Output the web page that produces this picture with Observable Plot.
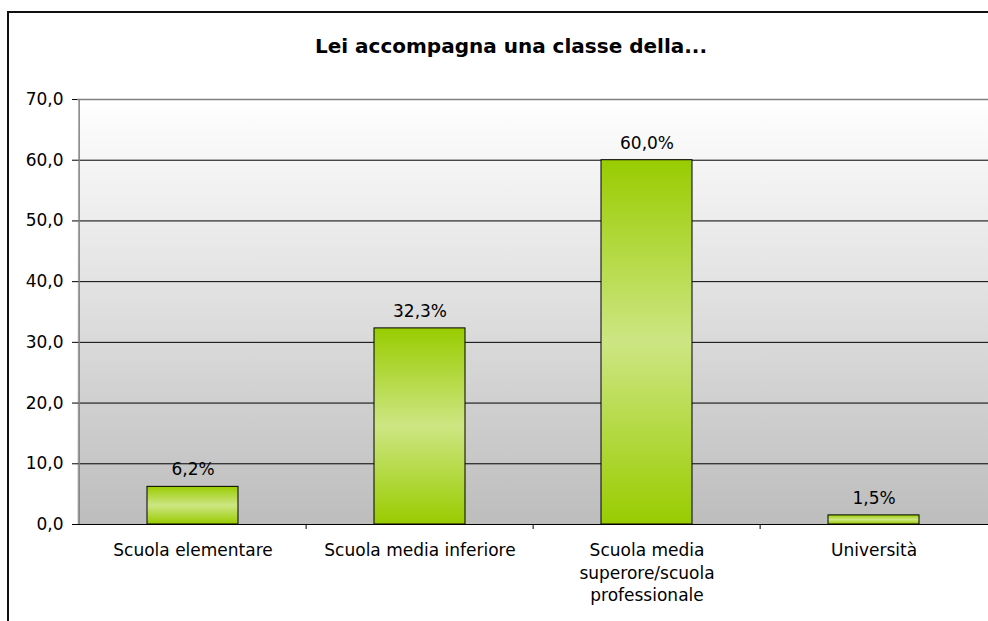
<!DOCTYPE html>
<html>
<head>
<meta charset="utf-8">
<script src="https://cdn.jsdelivr.net/npm/d3@7"></script>
<script src="https://cdn.jsdelivr.net/npm/@observablehq/plot@0.6"></script>
<style>
  html, body { margin: 0; padding: 0; background: #fff; }
  #wrap { position: relative; width: 988px; height: 621px; overflow: hidden; background: #fff; }
  #wrap svg { position: absolute; left: 0; top: 0; }
  #border { position: absolute; left: 7px; top: 11px; width: 1200px; height: 900px;
            border-left: 2px solid #111; border-top: 2px solid #111; pointer-events: none; }
  #title { position: absolute; left: 0; top: 34px; width: 1022px; text-align: center;
           font-family: "DejaVu Sans", Verdana, sans-serif; font-weight: bold; font-size: 20px;
           line-height: 24px; color: #000; }
</style>
</head>
<body>
<div id="wrap">
  <div id="title">Lei accompagna una classe della...</div>
</div>
<script>
const categories = [
  "Scuola elementare",
  "Scuola media inferiore",
  "Scuola media\nsuperore/scuola\nprofessionale",
  "Università"
];
const values = [6.2, 32.3, 60.0, 1.5];
const valueLabels = ["6,2%", "32,3%", "60,0%", "1,5%"];
const yTicks = [0, 10, 20, 30, 40, 50, 60, 70];
const gridTicks = [10, 20, 30, 40, 50, 60];

const data = categories.map((c, i) => ({cat: c, value: values[i], label: valueLabels[i]}));

const W = 988, H = 621, mL = 77, mR = 0, mT = 99, mB = 97;
const step = (W - mL - mR) / categories.length;

const defs = () => {
  const d = d3.create("svg:defs");
  const bg = d.append("linearGradient").attr("id", "bgGrad")
    .attr("x1", 0).attr("y1", 0).attr("x2", 0).attr("y2", 1);
  bg.append("stop").attr("offset", "0%").attr("stop-color", "#ffffff");
  bg.append("stop").attr("offset", "100%").attr("stop-color", "#bdbdbd");
  const bar = d.append("linearGradient").attr("id", "barGrad")
    .attr("x1", 0).attr("y1", 0).attr("x2", 0).attr("y2", 1);
  bar.append("stop").attr("offset", "0%").attr("stop-color", "#99cc00");
  bar.append("stop").attr("offset", "50%").attr("stop-color", "#cde683");
  bar.append("stop").attr("offset", "100%").attr("stop-color", "#99cc00");
  return d.node();
};

const chart = Plot.plot({
  width: W,
  height: H,
  marginLeft: mL,
  marginRight: mR,
  marginTop: mT,
  marginBottom: mB,
  style: {fontFamily: "DejaVu Sans, Verdana, sans-serif", fontSize: "17px", background: "transparent", color: "#000"},
  x: {domain: categories, paddingInner: 0.6, paddingOuter: 0.3, label: null},
  y: {domain: [0, 70], label: null},
  marks: [
    defs,
    Plot.frame({fill: "url(#bgGrad)", stroke: null}),
    Plot.ruleY(gridTicks, {stroke: "#000", strokeWidth: 1}),
    Plot.ruleY([70], {stroke: "#808080", strokeWidth: 1.5}),
    Plot.ruleX([categories[0]], {dx: -step / 2, stroke: "#808080", strokeWidth: 1.5}),
    Plot.barY(data, {x: "cat", y: "value", fill: "url(#barGrad)", stroke: "#000", strokeWidth: 1}),
    Plot.ruleX(categories.slice(1), {x: d => d, dx: -step / 2, stroke: "#000", insetTop: H - mT - mB, insetBottom: -5}),
    Plot.ruleY([0], {stroke: "#000", strokeWidth: 1}),
    Plot.axisY({ticks: yTicks, tickSize: 5, tickPadding: 9, tickFormat: d => d.toFixed(1).replace(".", ","), fontSize: 17}),
    Plot.axisX({tickSize: 0, tickPadding: 16, lineHeight: 1.32, fontSize: 17}),
    Plot.text(data, {x: "cat", y: "value", text: "label", dy: -17, lineAnchor: "middle", fill: "#000", fontSize: 17})
  ]
});

const wrap = document.getElementById("wrap");
wrap.insertBefore(chart, wrap.firstChild);
const border = document.createElement("div");
border.id = "border";
wrap.appendChild(border);
</script>
</body>
</html>
